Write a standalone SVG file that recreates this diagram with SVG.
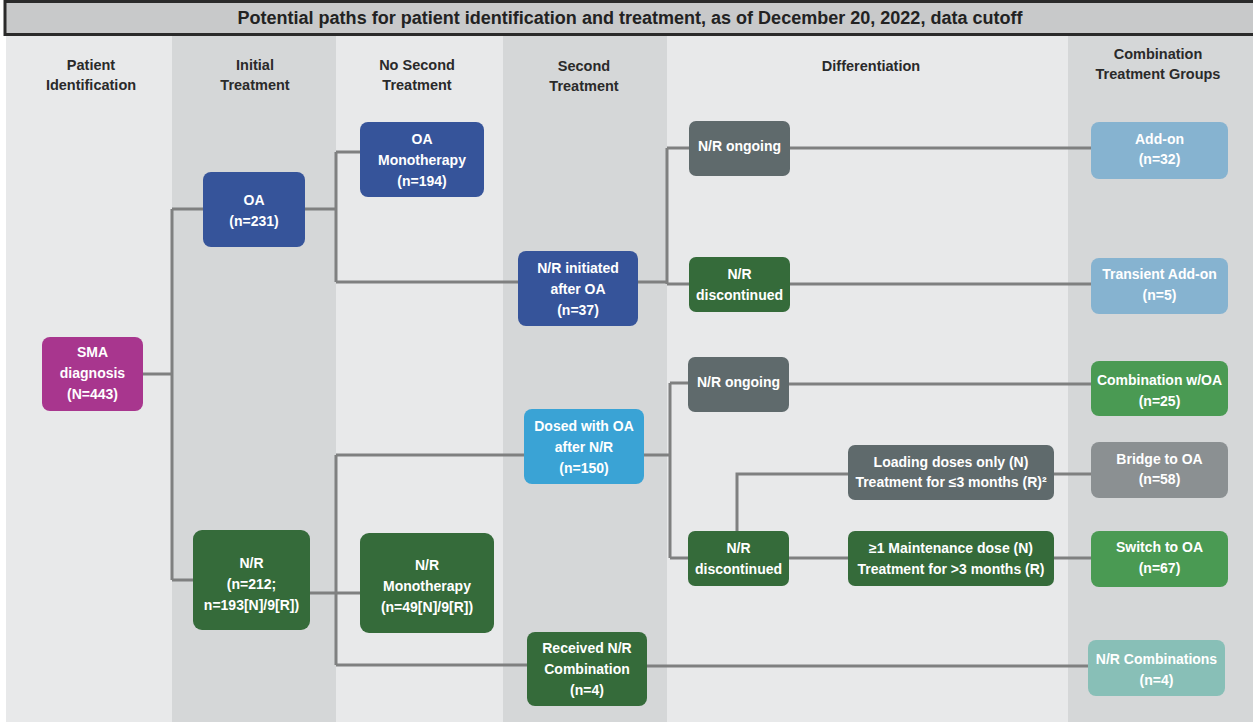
<svg xmlns="http://www.w3.org/2000/svg" width="1253" height="722" viewBox="0 0 1253 722">
<style>
.colL{fill:#e8e9ea}
.colD{fill:#d5d7d8}
.hdr{font-family:"Liberation Sans",Arial,sans-serif;font-weight:bold;font-size:14.5px;fill:#2a2a2a;text-anchor:middle}
.t{font-family:"Liberation Sans",Arial,sans-serif;font-weight:bold;font-size:14px;fill:#ffffff;text-anchor:middle}
.blue{fill:#36549a}
.green{fill:#356b3a}
.gray{fill:#5f6a6c}
.mag{fill:#a8368e}
.lblue{fill:#3aa3d5}
.steel{fill:#86b3d0}
.mgreen{fill:#4a9a53}
.lgray{fill:#8b9092}
.teal{fill:#88bfb7}
.c{fill:none;stroke:#7f8080;stroke-width:3}
</style>
<rect x="0" y="0" width="1253" height="722" fill="#ffffff"/>
<g id="columns">
<rect class="colL" x="6" y="36" width="166" height="686"/>
<rect class="colD" x="172" y="36" width="164" height="686"/>
<rect class="colL" x="336" y="36" width="167" height="686"/>
<rect class="colD" x="503" y="36" width="164" height="686"/>
<rect class="colL" x="667" y="36" width="401" height="686"/>
<rect class="colD" x="1068" y="36" width="185" height="686"/>
</g>
<g id="title">
<rect x="5" y="1.5" width="1252" height="33" fill="#c8c9ca" stroke="#2a2a2a" stroke-width="3"/>
<text x="630" y="24" font-family="'Liberation Sans',Arial,sans-serif" font-weight="bold" font-size="18" fill="#222" text-anchor="middle" textLength="785" lengthAdjust="spacingAndGlyphs">Potential paths for patient identification and treatment, as of December 20, 2022, data cutoff</text>
</g>
<g id="headers">
<text class="hdr" x="91" y="70">Patient</text>
<text class="hdr" x="91" y="90">Identification</text>
<text class="hdr" x="255" y="70">Initial</text>
<text class="hdr" x="255" y="90">Treatment</text>
<text class="hdr" x="417" y="70">No Second</text>
<text class="hdr" x="417" y="90">Treatment</text>
<text class="hdr" x="584" y="71">Second</text>
<text class="hdr" x="584" y="91">Treatment</text>
<text class="hdr" x="871" y="71">Differentiation</text>
<text class="hdr" x="1158" y="59">Combination</text>
<text class="hdr" x="1158" y="79">Treatment Groups</text>
</g>
<g id="connectors">
<path class="c" d="M143 374H172M172 209V580M172 209H203M172 580H193"/>
<path class="c" d="M305 209H336M336 152V282M336 152H360M336 282H518"/>
<path class="c" d="M638 282H667M667 148V284M667 148H689M667 284H689"/>
<path class="c" d="M790 148H1091"/>
<path class="c" d="M790 284H1091"/>
<path class="c" d="M310 593H360M336 455V665M336 455H524M336 665H527"/>
<path class="c" d="M644 455H670M670 383V558M670 383H688M670 558H688"/>
<path class="c" d="M789 384H1091"/>
<path class="c" d="M789 558H848M737 531V474H848"/>
<path class="c" d="M1054 474H1091"/>
<path class="c" d="M1054 558H1091"/>
<path class="c" d="M647 666H1088"/>
</g>
<g id="sma"><rect class="mag" x="42" y="337" width="101" height="74" rx="8"/>
<text class="t" x="92.5" y="357">SMA</text><text class="t" x="92.5" y="378">diagnosis</text><text class="t" x="92.5" y="399">(N=443)</text></g>
<g id="oa"><rect class="blue" x="203" y="172" width="102" height="75" rx="8"/>
<text class="t" x="254" y="205">OA</text><text class="t" x="254" y="226">(n=231)</text></g>
<g id="nr"><rect class="green" x="193" y="530" width="117" height="100" rx="9"/>
<text class="t" x="251.5" y="568">N/R</text><text class="t" x="251.5" y="589">(n=212;</text><text class="t" x="251.5" y="610">n=193[N]/9[R])</text></g>
<g id="oa-mono"><rect class="blue" x="360" y="122" width="124" height="75" rx="8"/>
<text class="t" x="422" y="144">OA</text><text class="t" x="422" y="165">Monotherapy</text><text class="t" x="422" y="186">(n=194)</text></g>
<g id="nr-mono"><rect class="green" x="360" y="533" width="134" height="100" rx="9"/>
<text class="t" x="427" y="570">N/R</text><text class="t" x="427" y="591">Monotherapy</text><text class="t" x="427" y="612">(n=49[N]/9[R])</text></g>
<g id="nr-after-oa"><rect class="blue" x="518" y="251" width="120" height="75" rx="8"/>
<text class="t" x="578" y="273">N/R initiated</text><text class="t" x="578" y="294">after OA</text><text class="t" x="578" y="315">(n=37)</text></g>
<g id="oa-after-nr"><rect class="lblue" x="524" y="409" width="120" height="75" rx="8"/>
<text class="t" x="584" y="431">Dosed with OA</text><text class="t" x="584" y="452">after N/R</text><text class="t" x="584" y="473">(n=150)</text></g>
<g id="nr-combo"><rect class="green" x="527" y="632" width="120" height="74" rx="8"/>
<text class="t" x="587" y="653">Received N/R</text><text class="t" x="587" y="674">Combination</text><text class="t" x="587" y="695">(n=4)</text></g>
<g id="nr-ongoing-1"><rect class="gray" x="689" y="121" width="101" height="55" rx="7"/>
<text class="t" x="739.5" y="151">N/R ongoing</text></g>
<g id="nr-disc-1"><rect class="green" x="689" y="257" width="101" height="55" rx="7"/>
<text class="t" x="739.5" y="279">N/R</text><text class="t" x="739.5" y="300">discontinued</text></g>
<g id="nr-ongoing-2"><rect class="gray" x="688" y="357" width="101" height="55" rx="7"/>
<text class="t" x="738.5" y="387">N/R ongoing</text></g>
<g id="nr-disc-2"><rect class="green" x="688" y="531" width="101" height="55" rx="7"/>
<text class="t" x="738.5" y="553">N/R</text><text class="t" x="738.5" y="574">discontinued</text></g>
<g id="loading"><rect class="gray" x="848" y="445" width="206" height="55" rx="7"/>
<text class="t" x="951" y="467">Loading doses only (N)</text><text class="t" x="951" y="487">Treatment for ≤3 months (R)²</text></g>
<g id="maintenance"><rect class="green" x="848" y="531" width="206" height="55" rx="7"/>
<text class="t" x="951" y="553">≥1 Maintenance dose (N)</text><text class="t" x="951" y="574">Treatment for &gt;3 months (R)</text></g>
<g id="addon"><rect class="steel" x="1091" y="122" width="137" height="57" rx="8"/>
<text class="t" x="1159.5" y="144">Add-on</text><text class="t" x="1159.5" y="164">(n=32)</text></g>
<g id="transient"><rect class="steel" x="1091" y="258" width="137" height="56" rx="8"/>
<text class="t" x="1159.5" y="279">Transient Add-on</text><text class="t" x="1159.5" y="300">(n=5)</text></g>
<g id="combo-oa"><rect class="mgreen" x="1091" y="361" width="137" height="55" rx="8"/>
<text class="t" x="1159.5" y="385">Combination w/OA</text><text class="t" x="1159.5" y="406">(n=25)</text></g>
<g id="bridge"><rect class="lgray" x="1091" y="442" width="137" height="56" rx="8"/>
<text class="t" x="1159.5" y="464">Bridge to OA</text><text class="t" x="1159.5" y="484">(n=58)</text></g>
<g id="switch"><rect class="mgreen" x="1091" y="531" width="137" height="56" rx="8"/>
<text class="t" x="1159.5" y="552">Switch to OA</text><text class="t" x="1159.5" y="573">(n=67)</text></g>
<g id="nr-combos"><rect class="teal" x="1088" y="640" width="137" height="56" rx="8"/>
<text class="t" x="1156.5" y="664">N/R Combinations</text><text class="t" x="1156.5" y="685">(n=4)</text></g>
</svg>
